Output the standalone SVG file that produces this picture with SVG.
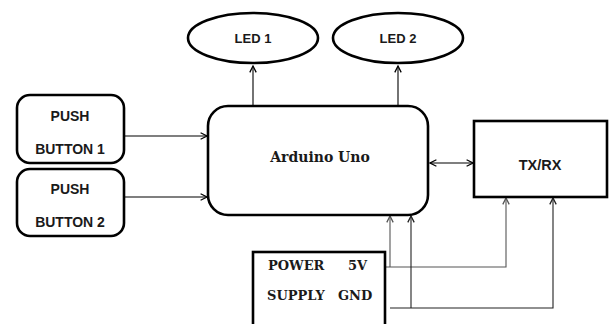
<svg xmlns="http://www.w3.org/2000/svg" width="609" height="324" viewBox="0 0 609 324">
<defs>
<marker id="ah" viewBox="0 0 10 10" refX="9" refY="5" markerWidth="8" markerHeight="8" markerUnits="userSpaceOnUse" orient="auto-start-reverse">
<path d="M1,1 L9,5 L1,9" fill="none" stroke="context-stroke" stroke-width="1.6"/>
</marker>
<style>
.box{fill:#fff;stroke:#000;stroke-width:2.6}
.sans{font-family:"Liberation Sans",Arial,sans-serif;font-weight:bold;fill:#1a1a1a}
.serif{font-family:"DejaVu Serif","Liberation Serif",serif;font-weight:bold;fill:#1a1a1a}
.ln{fill:none;stroke:#000;stroke-width:1.1}
.v5{stroke:#555}
.gnd{stroke:#222}
</style>
</defs>
<rect width="609" height="324" fill="#fff"/>
<g id="connectors">
<path class="ln" d="M253 106 V66" marker-end="url(#ah)"/>
<path class="ln" d="M398 106 V66" marker-end="url(#ah)"/>
<path class="ln" d="M124 136 H207" marker-end="url(#ah)"/>
<path class="ln" d="M124 197 H207" marker-end="url(#ah)"/>
<path class="ln" d="M430 163 H473" marker-start="url(#ah)" marker-end="url(#ah)"/>
<path class="ln v5" d="M385 267 H506 V198" marker-end="url(#ah)"/>
<path class="ln v5" d="M390 267 V216" marker-end="url(#ah)"/>
<path class="ln gnd" d="M390 308 H553 V198" marker-end="url(#ah)"/>
<path class="ln gnd" d="M411 308 V216" marker-end="url(#ah)"/>
</g>
<g id="led1">
<ellipse class="box" cx="253" cy="38" rx="65" ry="25"/>
<text class="sans" x="253" y="43" font-size="13" text-anchor="middle">LED 1</text>
</g>
<g id="led2">
<ellipse class="box" cx="398" cy="38" rx="65" ry="25"/>
<text class="sans" x="398" y="43" font-size="13" text-anchor="middle">LED 2</text>
</g>
<g id="push1">
<rect class="box" x="17" y="95" width="107" height="68" rx="13"/>
<text class="sans" x="70" y="121" font-size="14" text-anchor="middle">PUSH</text>
<text class="sans" x="70" y="154" font-size="14" text-anchor="middle">BUTTON 1</text>
</g>
<g id="push2">
<rect class="box" x="17" y="169" width="107" height="67" rx="13"/>
<text class="sans" x="70" y="194" font-size="14" text-anchor="middle">PUSH</text>
<text class="sans" x="70" y="227" font-size="14" text-anchor="middle">BUTTON 2</text>
</g>
<g id="arduino">
<rect class="box" x="208" y="106" width="220" height="109" rx="20"/>
<text class="serif" x="320" y="162" font-size="14" text-anchor="middle">Arduino Uno</text>
</g>
<g id="txrx">
<rect class="box" x="474" y="121" width="133" height="76"/>
<text class="sans" x="540" y="170" font-size="14.5" text-anchor="middle">TX/RX</text>
</g>
<g id="power">
<rect class="box" x="253" y="252" width="132" height="80"/>
<text class="serif" x="268" y="270" font-size="13">POWER</text>
<text class="serif" x="348" y="270" font-size="13">5V</text>
<text class="serif" x="267" y="300" font-size="13">SUPPLY</text>
<text class="serif" x="338" y="300" font-size="13">GND</text>
</g>
</svg>
